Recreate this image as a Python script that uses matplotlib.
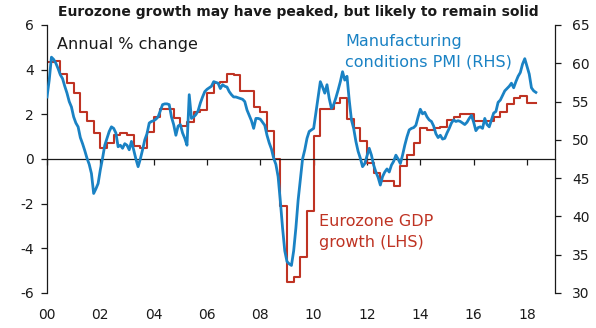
import numpy as np
import matplotlib
matplotlib.use("Agg")
import matplotlib.pyplot as plt

plt.rcParams['font.family'] = ['DejaVu Sans']
plt.rcParams['axes.unicode_minus'] = False

# Eurozone GDP, annual % change, quarterly from 2000 Q1 (LHS)
gdp = [4.33, 4.4, 3.8, 3.4,
       2.95, 2.1, 1.7, 1.15,
       0.5, 0.7, 1.07, 1.18,
       1.07, 0.6, 0.5, 1.2,
       1.9, 2.24, 2.24, 1.83,
       1.5, 1.67, 2.1, 2.2,
       2.95, 3.4, 3.45, 3.8,
       3.75, 3.05, 3.05, 2.35,
       2.1, 1.25, 0.0, -2.1,
       -5.5, -5.27, -4.4, -2.33,
       1.03, 2.22, 2.22, 2.5,
       2.72, 1.78, 1.4, 0.8,
       -0.2, -0.64, -1.0, -1.0,
       -1.2, -0.3, 0.2, 0.7,
       1.4, 1.3, 1.37, 1.45,
       1.75, 1.9, 2.0, 2.0,
       1.72, 1.72, 1.72, 1.87,
       2.1, 2.46, 2.75, 2.82,
       2.52]

# Manufacturing PMI, monthly from Jan 2000 (RHS)
pmi = [55.6, 57.8, 60.8, 60.5, 60.0, 59.3, 58.5, 58.0, 57.0, 56.1, 55.0, 54.3,  # 2000
       53.0, 52.2, 51.7, 50.3, 49.5, 48.6, 47.6, 46.8, 45.6, 43.0, 43.6, 44.3,  # 2001
       46.1, 47.6, 49.3, 50.2, 51.1, 51.7, 51.5, 50.9, 49.1, 49.3, 48.9, 49.5,  # 2002
       49.3, 48.7, 49.8, 48.7, 47.5, 46.5, 47.5, 48.7, 50.0, 50.8, 52.2, 52.4,  # 2003
       52.5, 52.7, 53.0, 53.8, 54.6, 54.7, 54.7, 54.6, 53.0, 52.0, 50.6, 51.8,  # 2004
       52.0, 50.9, 50.2, 49.3, 55.9, 52.8, 53.0, 53.3, 53.8, 54.8, 55.6, 56.3,  # 2005
       56.6, 56.8, 57.0, 57.6, 57.5, 57.4, 56.7, 57.2, 57.0, 56.9, 56.3, 55.9,  # 2006
       55.6, 55.6, 55.5, 55.4, 55.3, 55.0, 53.9, 53.2, 52.5, 51.5, 52.8, 52.8,  # 2007
       52.7, 52.3, 51.9, 50.6, 49.6, 48.8, 47.6, 46.8, 45.2, 42.0, 38.5, 35.5,  # 2008
       34.1, 33.8, 33.6, 35.5, 38.5, 42.1, 44.8, 47.5, 48.7, 50.2, 51.1, 51.3,  # 2009
       51.5, 53.5, 55.5, 57.6, 56.9, 56.1, 57.2, 55.4, 54.1, 54.6, 55.5, 56.5,  # 2010
       57.6, 58.9, 57.8, 58.3, 55.2, 52.6, 51.5, 49.8, 48.5, 47.6, 46.5, 46.9,  # 2011
       47.9, 48.9, 48.0, 46.7, 45.8, 45.1, 44.1, 45.2, 45.8, 46.2, 45.8, 46.7,  # 2012
       47.2, 48.0, 47.5, 46.9, 48.0, 49.3, 50.4, 51.3, 51.5, 51.6, 51.9, 53.0,  # 2013
       54.0, 53.4, 53.6, 53.0, 52.6, 52.4, 51.8, 50.8, 50.3, 50.6, 50.1, 50.2,  # 2014
       50.9, 51.5, 52.2, 52.6, 52.4, 52.5, 52.4, 52.2, 52.0, 52.3, 52.8, 53.2,  # 2015
       52.3, 51.2, 51.6, 51.7, 51.5, 52.8, 52.0, 51.7, 52.6, 53.5, 53.7, 54.9,  # 2016
       55.2, 55.8, 56.4, 56.7, 57.0, 57.4, 56.8, 57.6, 58.3, 58.8, 59.9, 60.6,  # 2017
       59.6, 58.6, 56.8, 56.4, 56.2]                                            # 2018

year_ticks = list(range(2000, 2019, 2))
year_labels = ['%02d' % (y % 100) for y in year_ticks]

blue = '#1a82c4'
red = '#bf3323'
ink = '#1a1a1a'

pmi_x = 2000 + np.arange(len(pmi)) / 12.0
gdp_x = 2000 + np.arange(len(gdp)) * 0.25
# carry the last quarter to the end of the monthly series
gdp_x = np.append(gdp_x, pmi_x[-1])
gdp_y = np.append(gdp, gdp[-1])

fig = plt.figure(figsize=(5.96, 3.28), dpi=100)
ax = fig.add_axes([47/596, 1-293/328, 508/596, 268/328])
ax2 = ax.twinx()

ax.plot(gdp_x, gdp_y, drawstyle='steps-post', color=red, linewidth=1.5)
ax2.plot(pmi_x, pmi, color=blue, linewidth=2.0)

ax.set_xlim(2000, 2019.05)
ax.set_ylim(-6, 6)
ax.set_yticks(range(-6, 7, 2))
ax2.set_ylim(30, 65)
ax2.set_yticks(range(30, 66, 5))

ax.set_xticks(year_ticks)
ax.set_xticklabels(year_labels)

for a in (ax, ax2):
    a.spines['top'].set_visible(False)
    for s in a.spines.values():
        s.set_linewidth(0.9)
        s.set_color(ink)
ax.spines['right'].set_visible(False)
ax2.spines['left'].set_visible(False)
ax2.spines['bottom'].set_visible(False)
ax.spines['bottom'].set_position(('data', 0))

ax.tick_params(axis='y', direction='out', length=4.5, width=0.9, pad=5,
               labelsize=10, colors=ink)
ax2.tick_params(axis='y', direction='out', length=4.5, width=0.9, pad=8,
                labelsize=10, colors=ink)
ax.tick_params(axis='x', direction='out', length=4, width=0.9, pad=103,
               labelsize=10, colors=ink)

lab = 11.5
ax.text(0.0197, 0.929, 'Annual % change', transform=ax.transAxes,
        fontsize=lab, ha='left', va='center', color=ink)
ax.text(0.5866, 0.9366, 'Manufacturing', transform=ax.transAxes,
        fontsize=lab, ha='left', va='center', color=blue)
ax.text(0.5866, 0.862, 'conditions PMI (RHS)', transform=ax.transAxes,
        fontsize=lab, ha='left', va='center', color=blue)
ax.text(0.5354, 0.265, 'Eurozone GDP', transform=ax.transAxes,
        fontsize=lab, ha='left', va='center', color=red)
ax.text(0.5354, 0.19, 'growth (LHS)', transform=ax.transAxes,
        fontsize=lab, ha='left', va='center', color=red)

fig.text(0.5, 0.963, 'Eurozone growth may have peaked, but likely to remain solid',
         fontsize=10.0, fontweight='bold', ha='center', va='center', color=ink)

fig.savefig('out.png', dpi=100)
